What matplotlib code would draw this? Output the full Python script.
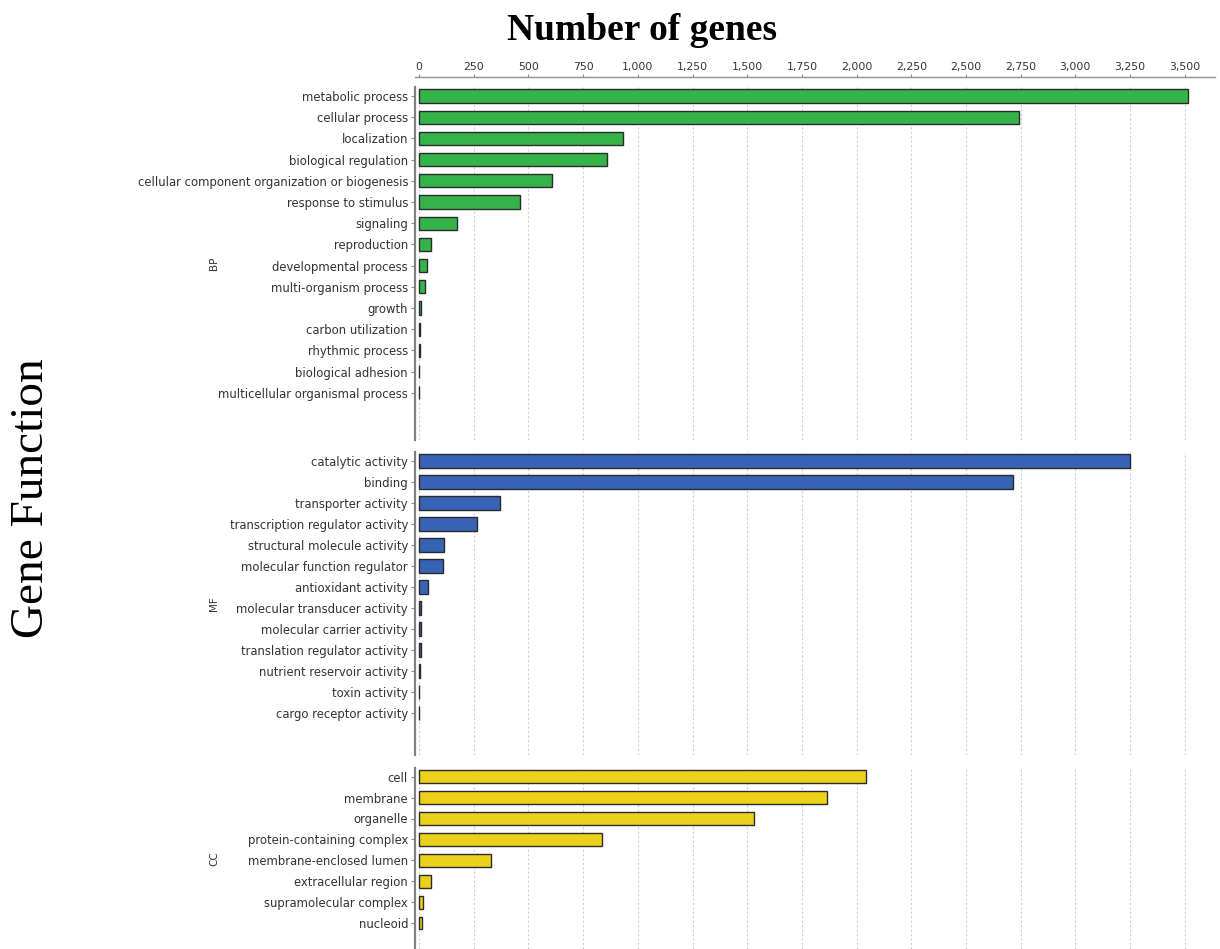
import matplotlib.pyplot as plt
import numpy as np

# GO categories and gene counts
bp_terms = ["metabolic process", "cellular process", "localization", "biological regulation",
            "cellular component organization or biogenesis", "response to stimulus", "signaling",
            "reproduction", "developmental process", "multi-organism process", "growth",
            "carbon utilization", "rhythmic process", "biological adhesion",
            "multicellular organismal process"]
bp_counts = [3515, 2742, 931, 858, 608, 462, 175, 55, 36, 28, 10, 3, 3, 2, 2]

mf_terms = ["catalytic activity", "binding", "transporter activity",
            "transcription regulator activity", "structural molecule activity",
            "molecular function regulator", "antioxidant activity",
            "molecular transducer activity", "molecular carrier activity",
            "translation regulator activity", "nutrient reservoir activity",
            "toxin activity", "cargo receptor activity"]
mf_counts = [3250, 2715, 369, 266, 113, 108, 41, 10, 10, 10, 3, 2, 2]

cc_terms = ["cell", "membrane", "organelle", "protein-containing complex",
            "membrane-enclosed lumen", "extracellular region", "supramolecular complex",
            "nucleoid"]
cc_counts = [2043, 1866, 1532, 838, 328, 55, 20, 14]

x_ticks = list(range(0, 3501, 250))
groups = ["BP", "MF", "CC"]
colors = ["#35B34A", "#3763B5", "#EDD01A"]

W, H = 1220, 949
fig = plt.figure(figsize=(W / 100, H / 100), dpi=100)

# panel geometry in pixels: (top, bottom, first row centre, row spacing)
panels = [(87, 440, 96, 21.2), (452, 755, 461, 21.0), (768, 949, 776.7, 20.9)]
left_px, right_px = 415, 1215
zero_px, px_per_unit = 419, 0.2188

xmin = (left_px - zero_px) / px_per_unit
xmax = (right_px - zero_px) / px_per_unit

data = [(bp_terms, bp_counts), (mf_terms, mf_counts), (cc_terms, cc_counts)]

for i, ((terms, counts), (top, bottom, first, step)) in enumerate(zip(data, panels)):
    ax = fig.add_axes([left_px / W, 1 - bottom / H, (right_px - left_px) / W, (bottom - top) / H])
    y = np.arange(len(terms))
    ax.barh(y, counts, height=0.62, color=colors[i], edgecolor="#2a2a2a", linewidth=1.0, zorder=3)
    ax.set_xlim(xmin, xmax)
    ax.set_ylim((bottom - first) / step, (top - first) / step)
    ax.set_yticks(y)
    ax.set_yticklabels(terms, fontsize=8.4, color="#333333")
    ax.tick_params(axis="y", length=3, width=0.8, color="#888888", pad=2)
    ax.set_xticks(x_ticks)
    ax.grid(axis="x", color="#cfcfcf", linestyle=(0, (2, 2)), linewidth=0.8, zorder=0)
    for s in ["right", "bottom"]:
        ax.spines[s].set_visible(False)
    ax.spines["left"].set_color("#808080")
    ax.spines["left"].set_linewidth(1.6)
    if i == 0:
        ax.xaxis.tick_top()
        ax.spines["top"].set_position(("outward", 7))
        ax.spines["top"].set_color("#909090")
        ax.spines["top"].set_linewidth(1.0)
        ax.set_xticklabels([f"{t:,}" for t in x_ticks], fontsize=7.8, color="#333333")
        ax.tick_params(axis="x", length=2, width=0.8, color="#909090", pad=2)
    else:
        ax.spines["top"].set_visible(False)
        ax.tick_params(axis="x", length=0, labeltop=False, labelbottom=False)
    ax.set_ylabel(groups[i], fontsize=7.5, color="#333333")
    ax.yaxis.set_label_coords((219 - left_px) / (right_px - left_px), 0.5)

fig.text(642 / W, 1 - 30 / H, "Number of genes", fontsize=27, fontweight="bold",
         family="Liberation Serif", ha="center", va="center")
fig.text(32 / W, 1 - 498 / H, "Gene Function", fontsize=34, rotation=90,
         family="Liberation Serif", ha="center", va="center")

fig.savefig("out.png", dpi=100)
